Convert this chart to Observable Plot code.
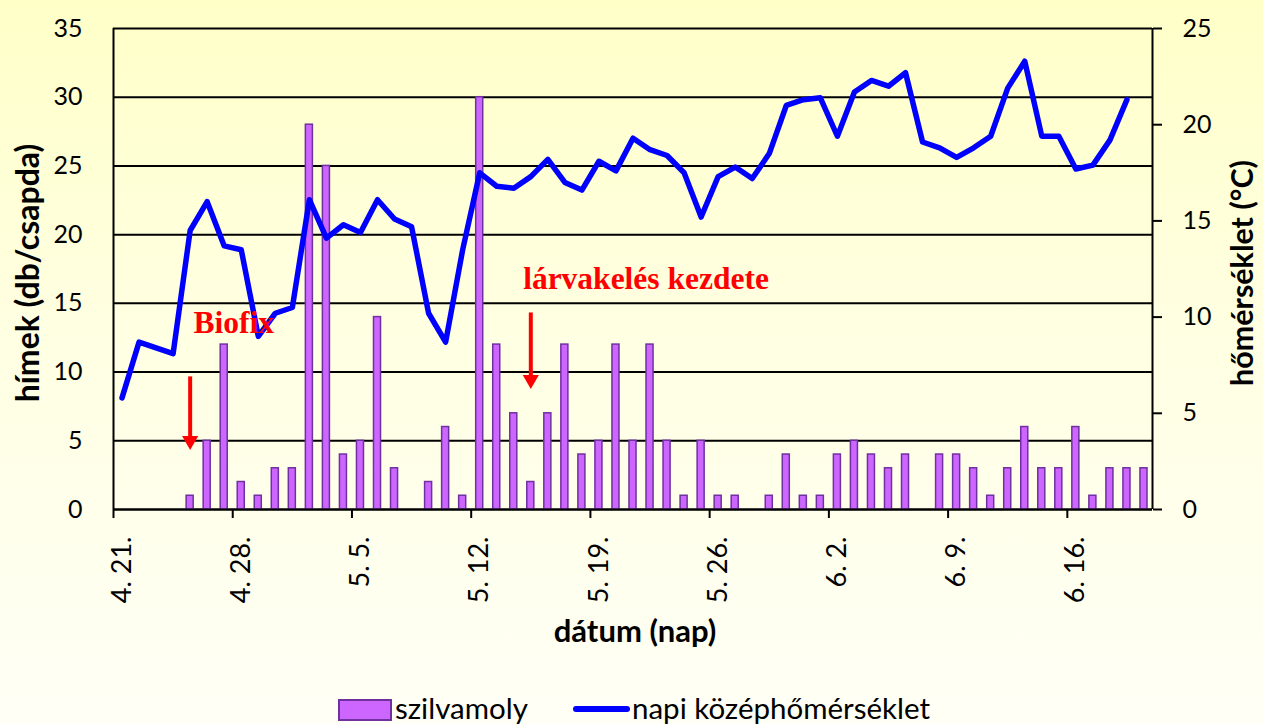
<!DOCTYPE html>
<html>
<head>
<meta charset="utf-8">
<script src="https://cdn.jsdelivr.net/npm/d3@7"></script>
<script src="https://cdn.jsdelivr.net/npm/@observablehq/plot@0.6"></script>
<style>
html, body { margin: 0; padding: 0; }
body {
  width: 1263px; height: 724px; overflow: hidden; position: relative;
  background: linear-gradient(180deg, #ffffc8 0%, #ffffe2 45%, #fffff6 100%);
  font-family: Lato, sans-serif;
}
#chart { position: absolute; left: 0; top: 0; }
#chart svg { display: block; }
.lg { position: absolute; }
.lgtext { font-family: Lato, sans-serif; font-size: 29.5px; color: #000; line-height: 28px; top: 694px; }
</style>
</head>
<body>
<div id="chart"></div>
<div class="lg" style="left:338px; top:699px; width:50px; height:18px; background:#cc66ff; border:2px solid #7030a0;"></div>
<div class="lg lgtext" style="left:395px;">szilvamoly</div>
<div class="lg" style="left:573px; top:706px; width:57px; height:6px; background:#0000ff; border-radius:3px;"></div>
<div class="lg lgtext" style="left:632px;">napi középhőmérséklet</div>
<script>
// ---- data ----
const dateLabels = [
  "4. 21.","4. 22.","4. 23.","4. 24.","4. 25.","4. 26.","4. 27.","4. 28.","4. 29.","4. 30.",
  "5. 1.","5. 2.","5. 3.","5. 4.","5. 5.","5. 6.","5. 7.","5. 8.","5. 9.","5. 10.",
  "5. 11.","5. 12.","5. 13.","5. 14.","5. 15.","5. 16.","5. 17.","5. 18.","5. 19.","5. 20.",
  "5. 21.","5. 22.","5. 23.","5. 24.","5. 25.","5. 26.","5. 27.","5. 28.","5. 29.","5. 30.",
  "5. 31.","6. 1.","6. 2.","6. 3.","6. 4.","6. 5.","6. 6.","6. 7.","6. 8.","6. 9.",
  "6. 10.","6. 11.","6. 12.","6. 13.","6. 14.","6. 15.","6. 16.","6. 17.","6. 18.","6. 19.",
  "6. 20."
];
// szilvamoly (hímek db/csapda)
const moths = [
  null,null,null,null,1,5,12,2,1,3,
  3,28,25,4,5,14,3,null,2,6,
  1,30,12,7,2,7,12,4,5,12,
  5,12,5,1,5,1,1,null,1,4,
  1,1,4,5,4,3,4,null,4,4,
  3,1,3,6,3,3,6,1,3,3,
  3
];
// napi középhőmérséklet (°C)
const temps = [
  5.8,8.7,8.4,8.1,14.5,16.0,13.7,13.5,9.0,10.2,
  10.5,16.1,14.1,14.8,14.4,16.1,15.1,14.7,10.2,8.7,
  13.5,17.5,16.8,16.7,17.3,18.2,17.0,16.6,18.1,17.6,
  19.3,18.7,18.4,17.5,15.2,17.3,17.8,17.2,18.5,21.0,
  21.3,21.4,19.4,21.7,22.3,22.0,22.7,19.1,18.8,18.3,
  18.8,19.4,21.9,23.3,19.4,19.4,17.7,17.9,19.2,21.3,
  null
];
const tickDates = ["4. 21.","4. 28.","5. 5.","5. 12.","5. 19.","5. 26.","6. 2.","6. 9.","6. 16."];
const leftTicks = [0,5,10,15,20,25,30,35];
const rightTicks = [0,5,10,15,20,25];
const annotations = [
  {date: "4. 25.", text: "Biofix", arrowFrom: 9.65, arrowTo: 5.0, labelY: 13.6, labelDx: 0.7},
  {date: "5. 15.", text: "lárvakelés kezdete", arrowFrom: 14.3, arrowTo: 9.45, labelY: 16.8, labelDx: 0.05}
];
const yMax = 35, tMax = 25;
const toLeft = t => t * yMax / tMax;

// ---- table ----
const data = dateLabels.map((date, i) => ({i, date, moths: moths[i], temp: temps[i]}));
const idx = d => dateLabels.indexOf(d);

const black = "#000";
const chart = Plot.plot({
  width: 1263,
  height: 660,
  marginLeft: 113,
  marginRight: 111,
  marginTop: 28,
  marginBottom: 151,
  style: {background: "none", overflow: "visible", fontFamily: "Lato, sans-serif", color: "#000"},
  x: {type: "linear", domain: [0, dateLabels.length]},
  y: {domain: [0, yMax]},
  marks: [
    Plot.ruleY(leftTicks, {stroke: black, strokeWidth: 2}),
    Plot.rectY(data.filter(d => d.moths != null), {
      x1: d => d.i, x2: d => d.i + 1, y1: 0, y2: "moths",
      insetLeft: 5, insetRight: 5,
      fill: "#cc66ff", stroke: "#7030a0", strokeWidth: 1.5
    }),
    Plot.line(data, {
      x: d => d.i + 0.5, y: d => d.temp == null ? NaN : toLeft(d.temp),
      stroke: "#0000ff", strokeWidth: 5.5, strokeLinejoin: "round", strokeLinecap: "round"
    }),
    Plot.ruleX([0, dateLabels.length], {stroke: black, strokeWidth: 2}),
    Plot.ruleY([0], {stroke: black, strokeWidth: 2}),
    // left axis
    Plot.axisY({ticks: leftTicks, tickSize: 0, tickPadding: 31, fontSize: 25, label: null}),
    // right axis (temperature)
    Plot.axisY({anchor: "right", ticks: rightTicks.map(toLeft), tickFormat: d => Math.round(d * tMax / yMax),
      tickSize: 9, tickPadding: 21, fontSize: 25, label: null, strokeWidth: 2}),
    // x axis ticks at category boundaries
    Plot.axisX({ticks: tickDates.map(idx), tickSize: 9, tickFormat: () => "", label: null, strokeWidth: 2}),
    // x axis labels at category centers
    Plot.axisX({ticks: tickDates.map(d => idx(d) + 0.5), tickFormat: d => dateLabels[Math.floor(d)],
      tickSize: 0, tickPadding: 27, tickRotate: -90, fontSize: 27, label: null}),
    // axis titles
    Plot.text(["hímek (db/csapda)"], {frameAnchor: "left", textAnchor: "middle", lineAnchor: "middle",
      rotate: -90, dx: -85, dy: 4, fontSize: 32, fontWeight: "bold", fill: black}),
    Plot.text(["hőmérséklet (°C)"], {frameAnchor: "right", textAnchor: "middle", lineAnchor: "middle",
      rotate: -90, dx: 91, dy: 4, fontSize: 30.5, fontWeight: "bold", fill: black}),
    Plot.text(["dátum (nap)"], {frameAnchor: "bottom", textAnchor: "middle", lineAnchor: "middle",
      dy: 123, dx: 2, fontSize: 31, fontWeight: "bold", fill: black}),
    // annotations
    Plot.ruleX(annotations, {x: d => idx(d.date) + 0.5, y1: "arrowFrom", y2: "arrowTo", stroke: "#ff0000", strokeWidth: 4}),
    Plot.dot(annotations, {x: d => idx(d.date) + 0.5, y: "arrowTo", symbol: "triangle", rotate: 180, r: 6, fill: "#ff0000", stroke: "none"}),
    Plot.text(annotations, {x: d => idx(d.date) + d.labelDx, y: "labelY", text: "text", textAnchor: "start",
      fontFamily: "'Liberation Serif', serif", fontWeight: "bold", fontSize: 31.5, fill: "#ff0000"})
  ]
});
document.getElementById("chart").appendChild(chart);
</script>
</body>
</html>
